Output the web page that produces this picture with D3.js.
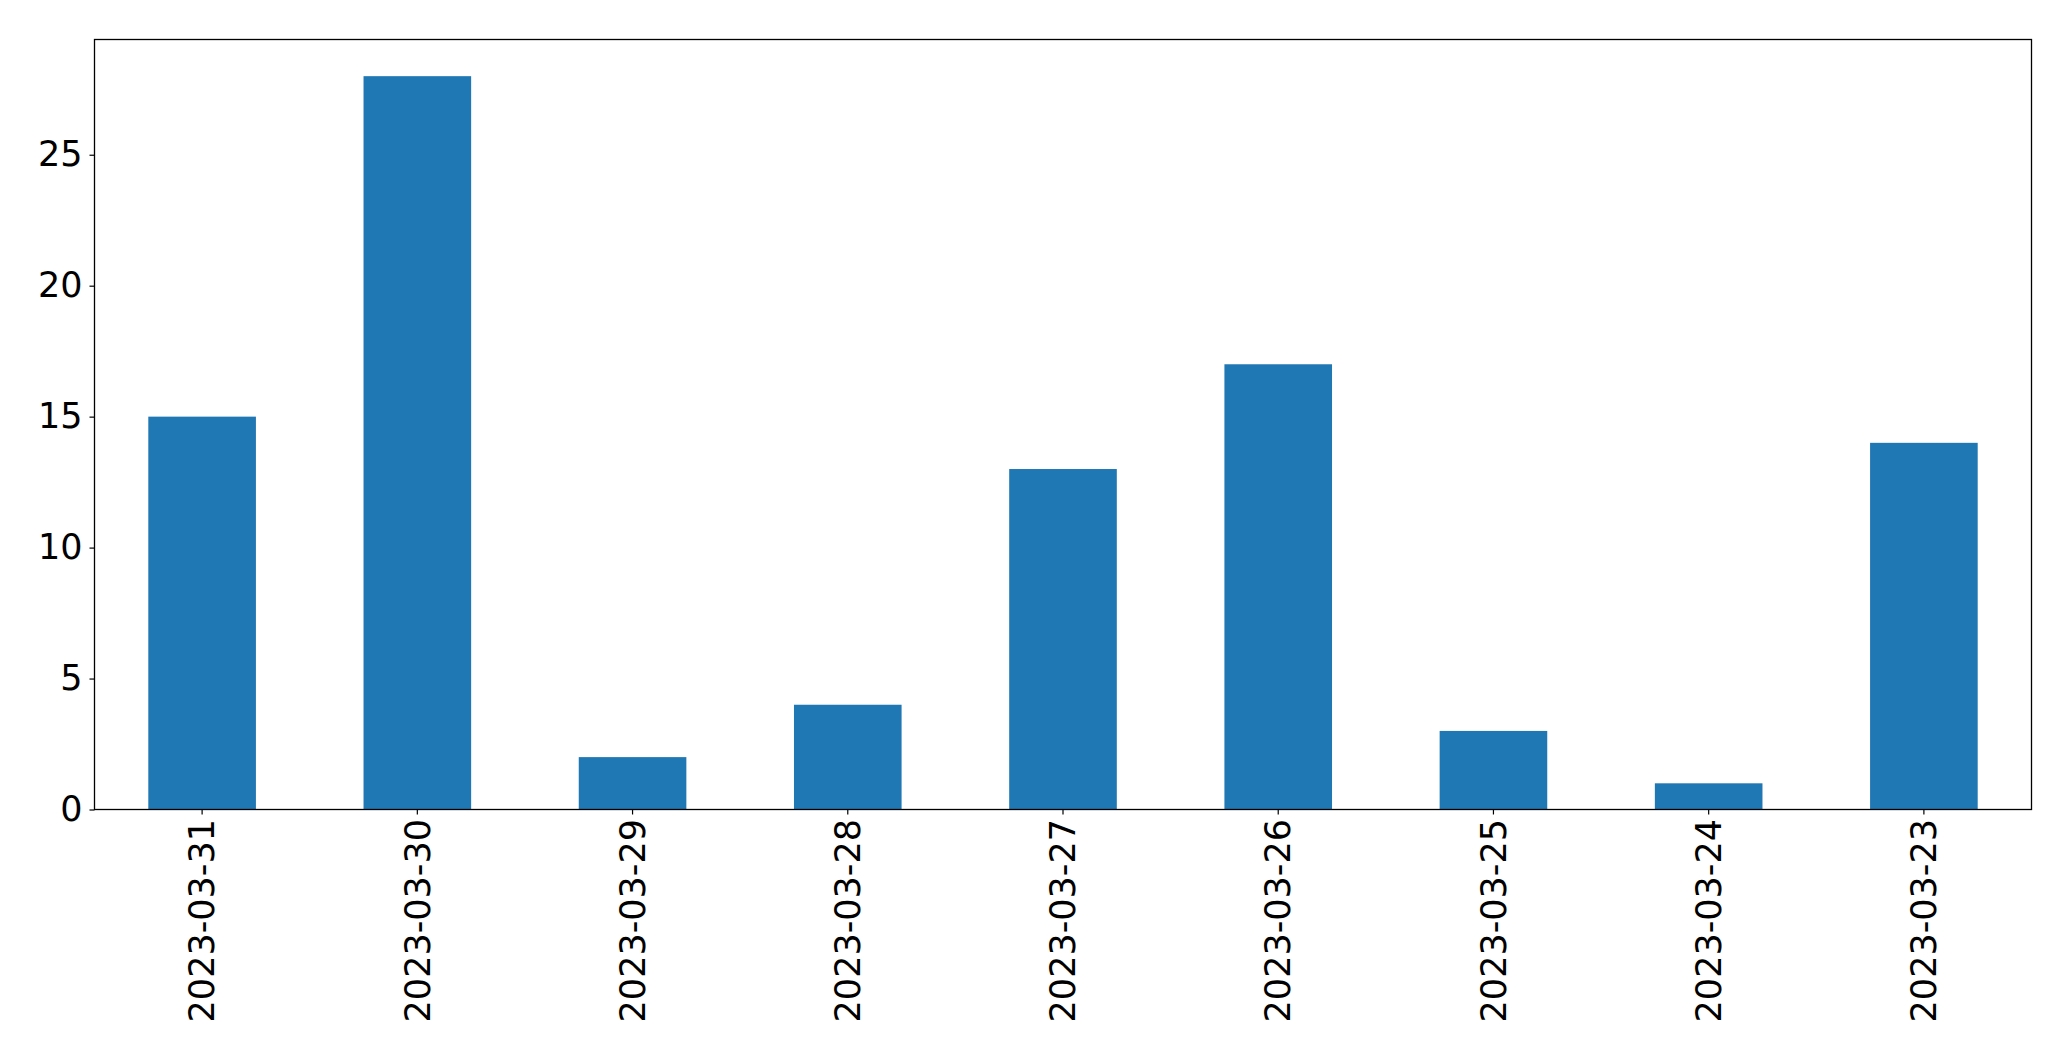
<!DOCTYPE html>
<html><head><meta charset="utf-8">
<script src="https://cdn.jsdelivr.net/npm/d3@7"></script>
<style>body{margin:0;background:#fff;} svg{display:block;}</style>
</head><body>
<svg id="chart" width="2071" height="1061"></svg>
<script>
const categories = ["2023-03-31","2023-03-30","2023-03-29","2023-03-28","2023-03-27","2023-03-26","2023-03-25","2023-03-24","2023-03-23"];
const values = [15, 28, 2, 4, 13, 17, 3, 1, 14];
const yTicks = [0, 5, 10, 15, 20, 25];

const svg = d3.select("#chart");
const m = {left: 94.5, right: 2031.5, top: 39.5, bottom: 809.5};
const x = d3.scaleBand().domain(categories).range([m.left, m.right]).paddingInner(0.5).paddingOuter(0.25);
const y = d3.scaleLinear().domain([0, d3.max(values) * 1.05]).range([m.bottom, m.top]);

svg.append("g").selectAll("rect").data(values).join("rect")
  .attr("x", (d, i) => x(categories[i]))
  .attr("width", x.bandwidth())
  .attr("y", d => y(d))
  .attr("height", d => y(0) - y(d))
  .attr("fill", "#1f77b4");

const font = "DejaVu Sans";
const fs = 35;
const yAxis = svg.append("g").attr("transform", `translate(${m.left},0)`)
  .call(d3.axisLeft(y).tickValues(yTicks).tickSize(5).tickPadding(7).tickFormat(d3.format("d")));
yAxis.select(".domain").remove();
yAxis.selectAll("text").attr("font-family", font).attr("font-size", fs).attr("fill", "#000");
yAxis.selectAll("line").attr("stroke", "#000").attr("stroke-width", 1.2);

const xAxis = svg.append("g").attr("transform", `translate(0,${m.bottom})`)
  .call(d3.axisBottom(x).tickSize(5).tickPadding(7));
xAxis.select(".domain").remove();
xAxis.selectAll("line").attr("stroke", "#000").attr("stroke-width", 1.2);
xAxis.selectAll("text")
  .attr("font-family", font).attr("font-size", fs).attr("fill", "#000")
  .attr("transform", "rotate(-90)")
  .attr("text-anchor", "end")
  .attr("dy", "0.35em")
  .attr("x", -9.5).attr("y", 0);

svg.append("rect").attr("x", m.left).attr("y", m.top)
  .attr("width", m.right - m.left).attr("height", m.bottom - m.top)
  .attr("fill", "none").attr("stroke", "#000").attr("stroke-width", 1.3);
</script>
</body></html>
